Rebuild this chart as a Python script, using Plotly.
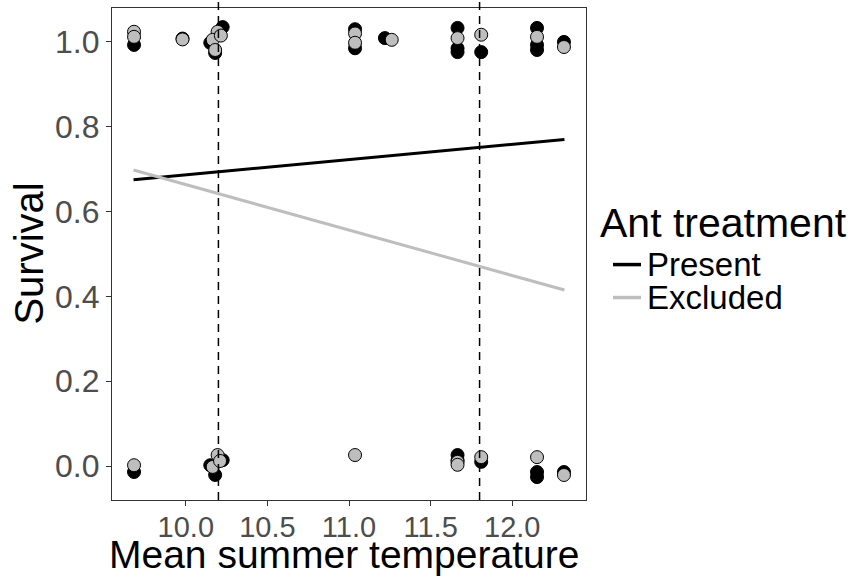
import plotly.graph_objects as go

# ---- data ----
present_x = [9.683, 9.683, 9.98, 10.226, 10.15, 10.18, 10.226, 10.15, 10.18,
             11.037, 11.037, 11.22, 11.665, 11.665, 11.665, 11.665, 11.665,
             11.81, 11.81, 12.152, 12.152, 12.152, 12.152, 12.152, 12.317, 12.317]
present_y = [0.993, -0.014, 1.008, 1.035, 0.998, 0.974, 0.014, 0.002, -0.021,
             1.03, 0.985, 1.009, 1.033, 0.985, 0.976, 0.026, 0.014,
             0.976, 0.01, 1.033, 0.993, 0.981, -0.014, -0.026, 1.0, -0.014]

excluded_x = [9.683, 9.683, 9.683, 9.98, 10.195, 10.165, 10.215, 10.18,
              10.195, 10.165, 10.21, 11.037, 11.037, 11.037, 11.262,
              11.665, 11.665, 11.665, 11.81, 11.81, 12.152, 12.152, 12.317, 12.317]
excluded_y = [1.024, 1.012, 0.002, 1.006, 1.024, 1.005, 1.015, 0.981,
              0.026, -0.002, 0.012, 1.02, 0.998, 0.026, 1.005,
              1.009, 0.01, 0.003, 1.017, 0.021, 1.012, 0.021, 0.988, -0.021]

fit_x = [9.68, 12.32]
fit_present = [0.675, 0.770]
fit_excluded = [0.698, 0.415]

vlines = [10.2, 11.8]

x_ticks = [10.0, 10.5, 11.0, 11.5, 12.0]
x_ticklabels = ["10.0", "10.5", "11.0", "11.5", "12.0"]
y_ticks = [0.0, 0.2, 0.4, 0.6, 0.8, 1.0]
y_ticklabels = ["0.0", "0.2", "0.4", "0.6", "0.8", "1.0"]

x_title = "Mean summer temperature"
y_title = "Survival"
legend_title = "Ant treatment"
legend_labels = ["Present", "Excluded"]

BLACK = "#000000"
GREY = "#bebebe"
FONT = "Liberation Sans, Arial, Helvetica, sans-serif"

fig = go.Figure()

fig.add_trace(go.Scatter(x=present_x, y=present_y, mode="markers", showlegend=False,
                         marker=dict(size=13, color=BLACK, line=dict(color=BLACK, width=1))))
fig.add_trace(go.Scatter(x=excluded_x, y=excluded_y, mode="markers", showlegend=False,
                         marker=dict(size=13, color=GREY, line=dict(color=BLACK, width=1))))
fig.add_trace(go.Scatter(x=fit_x, y=fit_present, mode="lines", showlegend=False,
                         line=dict(color=BLACK, width=3)))
fig.add_trace(go.Scatter(x=fit_x, y=fit_excluded, mode="lines", showlegend=False,
                         line=dict(color=GREY, width=3)))

for v in vlines:
    fig.add_shape(type="line", xref="x", yref="paper", x0=v, x1=v, y0=0, y1=1.017,
                  line=dict(color=BLACK, width=1.5, dash="8px,6px"), layer="above")

# axis titles as annotations (exact placement)
fig.add_annotation(text=x_title, xref="paper", yref="paper", x=0.49, y=-0.062,
                   xanchor="center", yanchor="top", showarrow=False,
                   font=dict(size=39, color=BLACK, family=FONT))
fig.add_annotation(text=y_title, xref="paper", yref="paper", x=-0.176, y=0.5,
                   xanchor="center", yanchor="middle", showarrow=False, textangle=-90,
                   font=dict(size=40, color=BLACK, family=FONT))

# manual legend
fig.add_annotation(text=legend_title, xref="paper", yref="paper", x=1.0, y=0.563,
                   xanchor="left", yanchor="middle", showarrow=False, xshift=12,
                   font=dict(size=41, color=BLACK, family=FONT))
leg_y = [0.4785, 0.4115]
leg_col = [BLACK, GREY]
for lab, yy, col in zip(legend_labels, leg_y, leg_col):
    fig.add_shape(type="line", xref="paper", yref="paper", x0=(613 - 112) / 474,
                  x1=(641 - 112) / 474, y0=yy, y1=yy, line=dict(color=col, width=3.5))
    fig.add_annotation(text=lab, xref="paper", yref="paper", x=(645 - 112) / 474, y=yy,
                       xanchor="left", yanchor="middle", showarrow=False,
                       font=dict(size=33, color=BLACK, family=FONT))

axis_common = dict(showgrid=False, zeroline=False, showline=True, mirror=True,
                   linecolor="#333333", linewidth=1.3, ticks="outside", ticklen=5,
                   tickcolor="#333333", tickwidth=1.3, automargin=False)

fig.update_layout(
    width=856, height=579,
    margin=dict(l=112, r=270, t=8, b=79),
    paper_bgcolor="white", plot_bgcolor="white",
    font=dict(family=FONT),
    xaxis=dict(range=[9.548, 12.452], tickvals=x_ticks, ticktext=x_ticklabels,
               tickfont=dict(size=29, color="#4d4d4d", family=FONT),
               ticklabelstandoff=-4,
               **axis_common),
    yaxis=dict(range=[-0.08, 1.08], tickvals=y_ticks, ticktext=y_ticklabels,
               tickfont=dict(size=32, color="#4d4d4d", family=FONT),
               **axis_common),
)

fig.write_html("out.html")
